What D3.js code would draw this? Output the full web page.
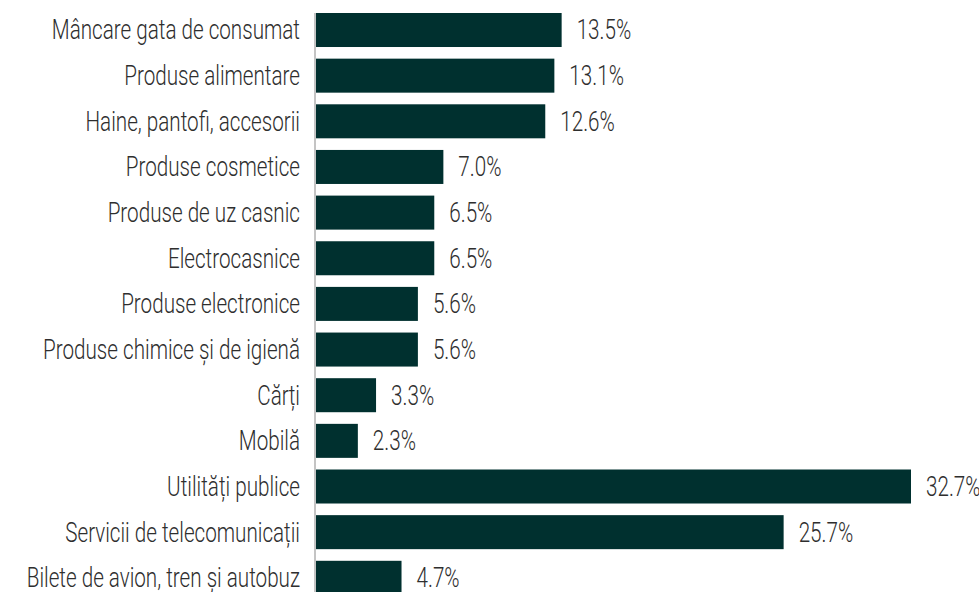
<!DOCTYPE html>
<html>
<head>
<meta charset="utf-8">
<script src="https://cdn.jsdelivr.net/npm/d3@7"></script>
<style>
  html, body { margin: 0; padding: 0; background: #fff; overflow: hidden; }
  svg { display: block; }
  text { font-family: "Roboto", "DejaVu Sans Condensed", sans-serif; font-weight: 300; }
</style>
</head>
<body>
<svg id="chart" width="979" height="592"></svg>
<script>
// Categories, top to bottom
const categories = [
  "Mâncare gata de consumat",
  "Produse alimentare",
  "Haine, pantofi, accesorii",
  "Produse cosmetice",
  "Produse de uz casnic",
  "Electrocasnice",
  "Produse electronice",
  "Produse chimice și de igienă",
  "Cărți",
  "Mobilă",
  "Utilități publice",
  "Servicii de telecomunicații",
  "Bilete de avion, tren și autobuz"
];

// Share of respondents, %
const values = [13.5, 13.1, 12.6, 7.0, 6.5, 6.5, 5.6, 5.6, 3.3, 2.3, 32.7, 25.7, 4.7];

const width = 979, height = 592;
const axisX = 316;
const step = 45.65;
const barColor = "#00302f";
const textColor = "#2e2e2e";
const fontSize = 27;
const squeeze = 0.765;   // horizontal condensing of the type

const svg = d3.select("#chart");

const x = d3.scaleLinear()
  .domain([0, 32.7])
  .range([axisX, 911]);

const y = d3.scaleBand()
  .domain(categories)
  .range([13 - 0.1275 * step, 13 - 0.1275 * step + categories.length * step])
  .paddingInner(0.255)
  .paddingOuter(0.1275);

const fmt = d => d3.format(".1f")(d) + "%";

const data = categories.map((c, i) => ({ c, v: values[i] }));

// Bars
svg.append("g")
  .selectAll("rect")
  .data(data)
  .join("rect")
  .attr("x", x(0))
  .attr("y", d => y(d.c))
  .attr("width", d => x(d.v) - x(0))
  .attr("height", y.bandwidth())
  .attr("fill", barColor);

// Category axis
const yAxis = d3.axisLeft(y).tickSize(0).tickPadding(15);
const gAxis = svg.append("g")
  .attr("transform", `translate(${axisX - 1},0)`)
  .call(yAxis);
gAxis.select(".domain")
  .attr("d", `M0,13V${height}`)
  .attr("stroke", "#c4c4c4")
  .attr("stroke-width", 2);
gAxis.selectAll(".tick text")
  .attr("x", 0)
  .attr("dy", "0.35em")
  .attr("transform", `translate(-15,0) scale(${squeeze},1)`)
  .attr("fill", textColor)
  .style("font-size", fontSize + "px")
  .style("font-family", null);

// Value labels
svg.append("g")
  .selectAll("text")
  .data(data)
  .join("text")
  .attr("transform", d => `translate(${x(d.v) + 15},${y(d.c) + y.bandwidth() / 2}) scale(${squeeze},1)`)
  .attr("dy", "0.35em")
  .attr("fill", textColor)
  .style("font-size", fontSize + "px")
  .text(d => fmt(d.v));
</script>
</body>
</html>
